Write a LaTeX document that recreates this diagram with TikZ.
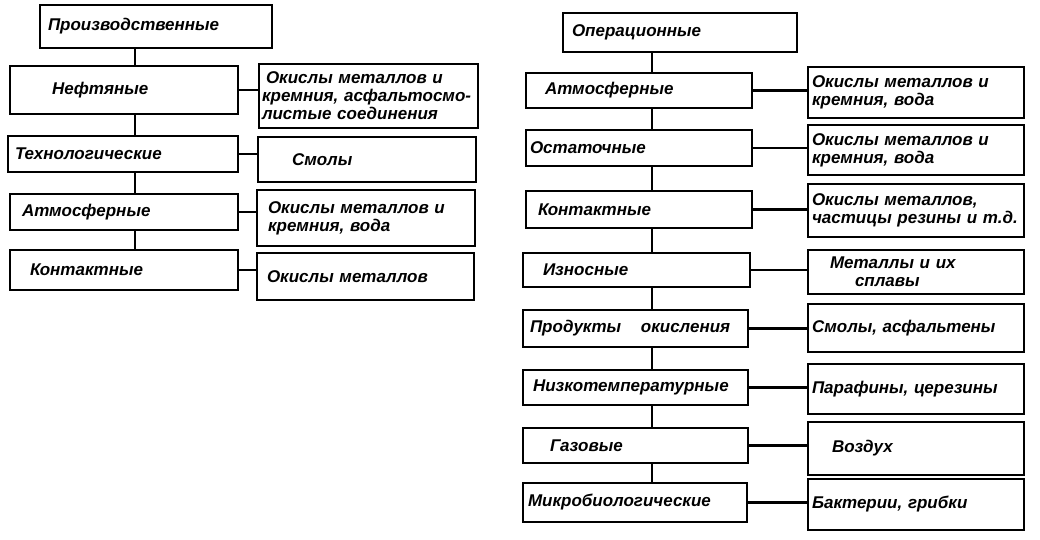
\documentclass[tikz,border=0pt]{standalone}
\usepackage{fontspec}
\setmainfont{Liberation Sans}
\begin{document}
\begin{tikzpicture}[x=1pt,y=-1pt,
  box/.style={draw, line width=2.6pt, inner sep=4pt, align=left,
    font=\bfseries\itshape\fontsize{17}{18}\selectfont},
  link/.style={line width=2.6pt}]
\useasboundingbox (0,0) rectangle (1040,540);

% left tree
\coordinate (tl) at (135,0);
\node[box, text width=224pt, minimum height=43pt] (prod) at (156,26.5) {\hspace*{4pt}Производственные};
\node[box, text width=220pt, minimum height=48pt] (neft) at (124,90) {\hspace*{38pt}Нефтяные};
\node[box, text width=222pt, minimum height=36pt] (tech) at (123,154) {\hspace*{3pt}Технологические};
\node[box, text width=220pt, minimum height=36pt] (atmL) at (124,212) {\hspace*{8pt}Атмосферные};
\node[box, text width=220pt, minimum height=40pt] (kontL) at (124,270) {\hspace*{16pt}Контактные};

\node[box, text width=213pt, inner sep=3pt, minimum height=64pt] (r1) at (368.5,96) {\hspace*{4pt}Окислы металлов и\\кремния, асфальтосмо-\\листые соединения};
\node[box, text width=210pt, minimum height=45pt] (r2) at (367,159.5) {\hspace*{30pt}Смолы};
\node[box, text width=210pt, minimum height=56pt] (r3) at (366,218) {\hspace*{7pt}Окислы металлов и\\\hspace*{7pt}кремния, вода};
\node[box, text width=209pt, minimum height=47pt] (r4) at (365.5,276.5) {\hspace*{6pt}Окислы металлов};

\draw[link] (prod.south -| tl) -- (neft.north -| tl);
\draw[link] (neft.south -| tl) -- (tech.north -| tl);
\draw[link] (tech.south -| tl) -- (atmL.north -| tl);
\draw[link] (atmL.south -| tl) -- (kontL.north -| tl);
\draw[link] (neft.east) -- (neft.east -| r1.west);
\draw[link] (tech.east) -- (tech.east -| r2.west);
\draw[link] (atmL.east) -- (atmL.east -| r3.west);
\draw[link] (kontL.east) -- (kontL.east -| r4.west);

% right tree
\coordinate (tr) at (652,0);
\node[box, text width=226pt, minimum height=39pt] (oper) at (680,32.5) {\hspace*{5pt}Операционные};
\node[box, text width=218pt, minimum height=35pt] (a1) at (639,90.5) {\hspace*{15pt}Атмосферные};
\node[box, text width=218pt, minimum height=36pt] (a2) at (639,148) {Остаточные};
\node[box, text width=218pt, minimum height=37pt] (a3) at (639,209.5) {\hspace*{8pt}Контактные};
\node[box, text width=219pt, minimum height=34pt] (a4) at (636.5,270) {\hspace*{16pt}Износные};
\node[box, text width=217pt, minimum height=37pt] (a5) at (635.5,328.5) {\hspace*{3pt}Продукты\hspace{14pt} окисления};
\node[box, text width=217pt, minimum height=35pt] (a6) at (635.5,387.5) {\hspace*{6pt}Низкотемпературные};
\node[box, text width=217pt, minimum height=35pt] (a7) at (635.5,445.5) {\hspace*{23pt}Газовые};
\node[box, text width=216pt, minimum height=39pt] (a8) at (635,502.5) {\hspace*{1pt}Микробиологические};

\node[box, text width=208pt, minimum height=51pt] (b1) at (916,92.5) {Окислы металлов и\\кремния, вода};
\node[box, text width=208pt, minimum height=50pt] (b2) at (916,150) {Окислы металлов и\\кремния, вода};
\node[box, text width=208pt, minimum height=53pt] (b3) at (916,210.5) {Окислы металлов,\\частицы резины и т.д.};
\node[box, text width=208pt, minimum height=44pt] (b4) at (916,272) {\hspace*{18pt}Металлы и их\\\hspace*{43pt}сплавы};
\node[box, text width=208pt, minimum height=48pt] (b5) at (916,328) {Смолы, асфальтены};
\node[box, text width=208pt, minimum height=50pt] (b6) at (916,389) {Парафины, церезины};
\node[box, text width=208pt, minimum height=53pt] (b7) at (916,448.5) {\hspace*{20pt}Воздух};
\node[box, text width=208pt, minimum height=51pt] (b8) at (916,504.5) {Бактерии, грибки};

\draw[link] (oper.south -| tr) -- (a1.north -| tr);
\draw[link] (a1.south -| tr) -- (a2.north -| tr);
\draw[link] (a2.south -| tr) -- (a3.north -| tr);
\draw[link] (a3.south -| tr) -- (a4.north -| tr);
\draw[link] (a4.south -| tr) -- (a5.north -| tr);
\draw[link] (a5.south -| tr) -- (a6.north -| tr);
\draw[link] (a6.south -| tr) -- (a7.north -| tr);
\draw[link] (a7.south -| tr) -- (a8.north -| tr);
\draw[link] (a1.east) -- (a1.east -| b1.west);
\draw[link] (a2.east) -- (a2.east -| b2.west);
\draw[link] (a3.east) -- (a3.east -| b3.west);
\draw[link] (a4.east) -- (a4.east -| b4.west);
\draw[link] (a5.east) -- (a5.east -| b5.west);
\draw[link] (a6.east) -- (a6.east -| b6.west);
\draw[link] (a7.east) -- (a7.east -| b7.west);
\draw[link] (a8.east) -- (a8.east -| b8.west);
\end{tikzpicture}
\end{document}
